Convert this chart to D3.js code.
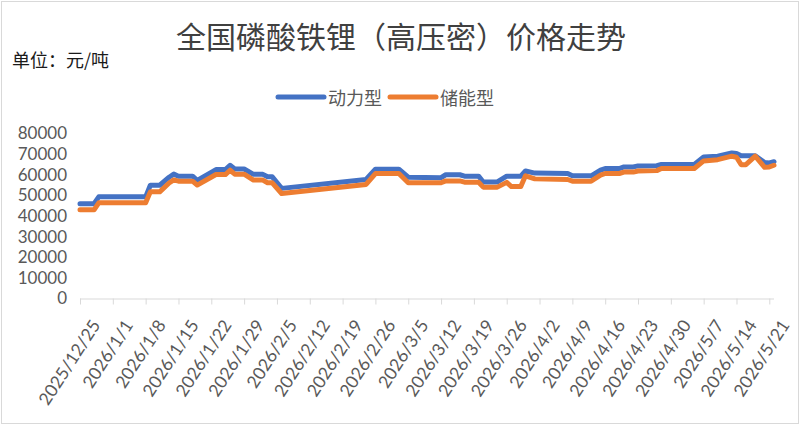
<!DOCTYPE html>
<html><head><meta charset="utf-8">
<script src="https://cdn.jsdelivr.net/npm/d3@7"></script>
<style>
html,body{margin:0;padding:0;background:#fff;}
svg{display:block;}
</style></head>
<body>
<svg id="chart" width="800" height="425"></svg>
<script>
const title = "全国磷酸铁锂（高压密）价格走势";
const unitLabel = "单位：元/吨";
const seriesNames = ["动力型", "储能型"];
const seriesColors = ["#4472C4", "#ED7D31"];

const dates = ["2025/12/25","2025/12/28","2025/12/29","2026/1/8","2026/1/9","2026/1/11","2026/1/13","2026/1/14","2026/1/15","2026/1/18",
"2026/1/19","2026/1/23","2026/1/25","2026/1/26","2026/1/27","2026/1/29","2026/1/31","2026/2/2","2026/2/3","2026/2/4",
"2026/2/6","2026/2/24","2026/2/26","2026/3/3","2026/3/5","2026/3/12","2026/3/13","2026/3/16","2026/3/17","2026/3/20",
"2026/3/21","2026/3/24","2026/3/26","2026/3/27","2026/3/29","2026/3/30","2026/4/1","2026/4/8","2026/4/9","2026/4/13",
"2026/4/15","2026/4/16","2026/4/19","2026/4/20","2026/4/22","2026/4/23","2026/4/27","2026/4/28","2026/5/5","2026/5/7",
"2026/5/10","2026/5/13","2026/5/14","2026/5/15","2026/5/16","2026/5/18","2026/5/20","2026/5/21","2026/5/22"];

const powerType = [46000,46000,49300,49300,54900,54900,58800,60300,59300,59300,
57300,62500,62500,64600,62800,62800,60200,60200,59000,59000,
53400,57700,62700,62700,58800,58600,60000,60000,59300,59300,
56500,56500,59300,59300,59300,61800,60800,60600,59500,59500,
62200,63000,63000,63800,63800,64300,64400,65000,65000,68600,
69000,70600,70300,69200,69200,69200,65900,65700,66300];

const storageType = [43000,43000,46400,46400,51700,51700,56000,57500,56900,56900,
55000,60100,60100,62200,60300,60300,57400,57400,56100,56100,
50900,55300,60600,60600,56100,56100,57000,57000,56400,56400,
54000,54000,56300,54300,54300,59500,58000,57700,56900,56900,
59800,60600,60600,61300,61300,61800,62000,63000,63000,66700,
67300,69000,68500,64900,64900,69000,63600,63800,64600];

const xTickLabels = ["2025/12/25","2026/1/1","2026/1/8","2026/1/15","2026/1/22","2026/1/29","2026/2/5","2026/2/12","2026/2/19","2026/2/26",
"2026/3/5","2026/3/12","2026/3/19","2026/3/26","2026/4/2","2026/4/9","2026/4/16","2026/4/23","2026/4/30","2026/5/7","2026/5/14","2026/5/21"];
const yTicks = [0,10000,20000,30000,40000,50000,60000,70000,80000];

const parse = d3.utcParse("%Y/%m/%d");
const svg = d3.select("#chart");
const W = 800, H = 425;

svg.append("rect").attr("x",1.5).attr("y",1.5).attr("width",W-3).attr("height",H-3)
  .attr("fill","#fff").attr("stroke","#d9d9d9").attr("stroke-width",1);

const x = d3.scaleUtc().domain([parse(dates[0]), parse(dates[dates.length-1])]).range([80, 774]);
const y = d3.scaleLinear().domain([0, 80000]).range([298.5, 133.5]);

// title
svg.append("text").attr("x", 401).attr("y", 48).attr("text-anchor","middle")
  .attr("font-family","'Noto Sans CJK SC'").attr("font-size",30).attr("fill","#404040")
  .text(title);
svg.append("text").attr("x", 12).attr("y", 67)
  .attr("font-family","'Noto Sans CJK SC'").attr("font-size",18).attr("fill","#1a1a1a")
  .text(unitLabel);

// legend
const legend = svg.append("g").attr("font-family","'Noto Sans CJK SC'").attr("font-size",18).attr("fill","#595959");
const legX = [278, 390];
seriesNames.forEach((n,i)=>{
  legend.append("line").attr("x1",legX[i]).attr("x2",legX[i]+46).attr("y1",97).attr("y2",97)
    .attr("stroke",seriesColors[i]).attr("stroke-width",5).attr("stroke-linecap","round");
  legend.append("text").attr("x",legX[i]+50).attr("y",97).attr("dominant-baseline","central").text(n);
});

// y axis
const yAxis = svg.append("g").attr("transform","translate(67,0)")
  .call(d3.axisLeft(y).tickValues(yTicks).tickSize(0).tickPadding(0).tickFormat(d3.format("d")));
yAxis.select(".domain").remove();
yAxis.selectAll("text").attr("font-family","Lato").attr("font-size",17).attr("fill","#595959");

// x axis
const xAxis = svg.append("g").attr("transform","translate(0,298.5)")
  .call(d3.axisBottom(x).tickValues(xTickLabels.map(parse)).tickSize(6).tickFormat(d3.utcFormat("%Y/%-m/%-d")));
xAxis.select(".domain").attr("stroke","#d9d9d9").attr("d","M80,0.5H774");
xAxis.selectAll(".tick line").attr("stroke","#d9d9d9");
xAxis.selectAll(".tick text")
  .attr("font-family","Lato").attr("font-size",17.5).attr("fill","#595959")
  .attr("text-anchor","end").attr("dy",null).attr("y",null)
  .attr("dominant-baseline","central")
  .attr("transform","translate(15,23) rotate(-57)");

// lines
const series = [powerType, storageType];
const line = d3.line().x(d=>x(d[0])).y(d=>y(d[1]));
series.forEach((vals,i)=>{
  const pts = dates.map((d,j)=>[parse(d), vals[j]]);
  svg.append("path").datum(pts).attr("d",line).attr("fill","none")
    .attr("stroke",seriesColors[i]).attr("stroke-width",5).attr("stroke-linejoin","round").attr("stroke-linecap","round");
});
</script>
</body></html>
